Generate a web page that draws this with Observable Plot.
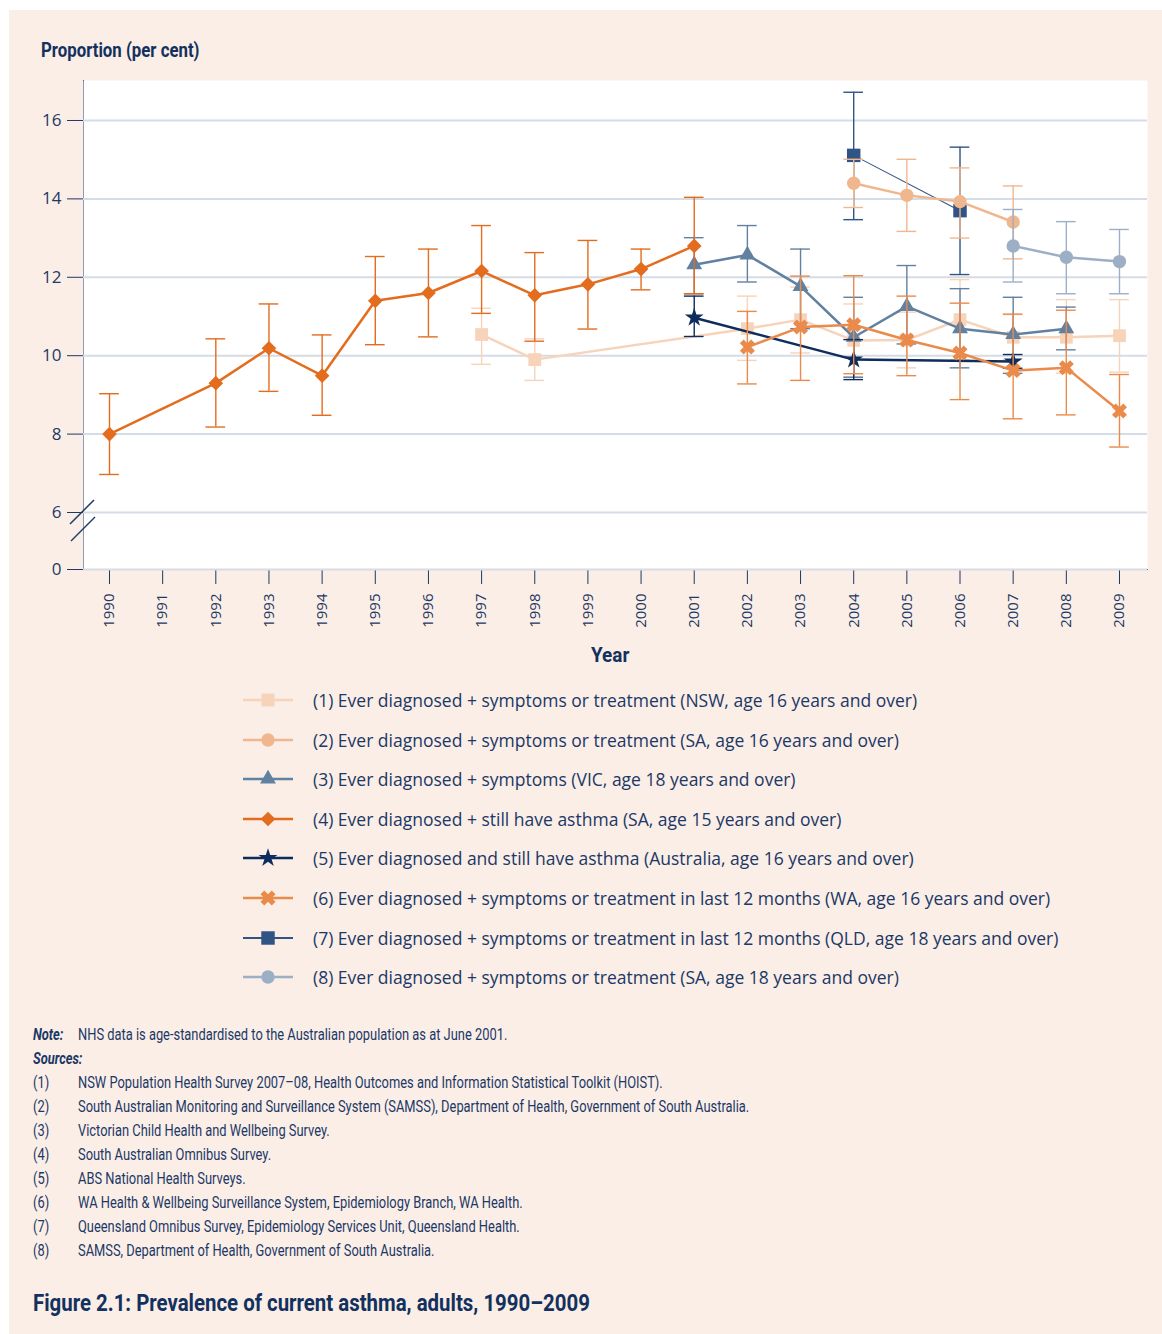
<!DOCTYPE html>
<html><head><meta charset="utf-8">
<script src="https://cdn.jsdelivr.net/npm/d3@7"></script>
<script src="https://cdn.jsdelivr.net/npm/@observablehq/plot@0.6"></script>
<style>
body{margin:0;background:#fff;}
#panel{position:absolute;left:9px;top:10px;width:1153px;height:1324px;background:#FAEEE6;overflow:hidden;}
.abs{position:absolute;white-space:nowrap;color:#1B3866;transform-origin:0 50%;}
.cond{font-family:"Roboto",sans-serif;}
#chart{position:absolute;left:0;top:60px;}
#chart svg{overflow:visible;}
#chart [aria-label="y-axis tick label"]{font-size:17px;}
.legrow{position:absolute;left:231px;height:24px;display:flex;align-items:center;white-space:nowrap;color:#1B3866;font-family:"Open Sans","Lato",sans-serif;font-size:17.5px;}
.legrow svg{margin-right:17px;}
</style></head>
<body>
<div id="panel">
  <div class="abs cond" style="left:32px;top:28px;font-size:20px;font-weight:bold;color:#13315F;transform:scaleX(0.84);">Proportion (per cent)</div>
  <div id="chart"></div>
  <div class="abs cond" style="left:582px;top:633px;font-size:21px;font-weight:bold;color:#13315F;transform:scaleX(0.9);">Year</div>
  <div id="legend"></div>
  <div id="notes"></div>
</div>
<script>
const years = [1990,1991,1992,1993,1994,1995,1996,1997,1998,1999,2000,2001,2002,2003,2004,2005,2006,2007,2008,2009];
const yTicks = [0,6,8,10,12,14,16];

const s1Years = [1997,1998,2002,2003,2004,2005,2006,2007,2008,2009];
const s1Values = [10.54,9.90,10.69,10.92,10.39,10.40,10.92,10.47,10.47,10.51];
const s1Low = [9.78,9.37,9.88,10.07,9.46,9.69,9.90,9.90,9.55,9.58];
const s1High = [11.21,10.43,11.52,11.75,11.32,11.11,11.94,11.05,11.43,11.43];

const s2Years = [2004,2005,2006,2007];
const s2Values = [14.40,14.09,13.93,13.41];
const s2Low = [13.78,13.17,13.00,12.47];
const s2High = [15.01,15.01,14.79,14.33];

const s3Years = [2001,2002,2003,2004,2005,2006,2007,2008];
const s3Values = [12.32,12.57,11.77,10.47,11.26,10.69,10.54,10.69];
const s3Low = [11.58,11.88,10.69,9.45,10.30,9.69,9.55,10.15];
const s3High = [13.01,13.32,12.72,11.49,12.30,11.71,11.49,11.24];

const s4Years = [1990,1992,1993,1994,1995,1996,1997,1998,1999,2000,2001];
const s4Values = [8.00,9.30,10.19,9.49,11.40,11.60,12.16,11.54,11.82,12.21,12.80];
const s4Low = [6.97,8.18,9.09,8.48,10.28,10.48,11.08,10.37,10.68,11.68,11.58];
const s4High = [9.03,10.43,11.32,10.53,12.53,12.72,13.32,12.63,12.94,12.72,14.04];

const s5Years = [2001,2004,2007];
const s5Values = [10.97,9.90,9.85];
const s5Low = [10.49,9.39,9.68];
const s5High = [11.52,10.41,10.03];

const s6Years = [2002,2003,2004,2005,2006,2007,2008,2009];
const s6Values = [10.22,10.73,10.79,10.40,10.07,9.62,9.69,8.59];
const s6Low = [9.28,9.37,9.54,9.49,8.88,8.39,8.49,7.67];
const s6High = [11.13,12.03,12.04,11.52,11.34,11.06,11.16,9.52];

const s7Years = [2004,2006];
const s7Values = [15.11,13.70];
const s7Low = [13.47,12.07];
const s7High = [16.72,15.32];

const s8Years = [2007,2008,2009];
const s8Values = [12.80,12.51,12.40];
const s8Low = [11.88,11.58,11.58];
const s8High = [13.73,13.42,13.22];

const legendLabels = [
  "(1) Ever diagnosed + symptoms or treatment (NSW, age 16 years and over)",
  "(2) Ever diagnosed + symptoms or treatment (SA, age 16 years and over)",
  "(3) Ever diagnosed + symptoms (VIC, age 18 years and over)",
  "(4) Ever diagnosed + still have asthma (SA, age 15 years and over)",
  "(5) Ever diagnosed and still have asthma (Australia, age 16 years and over)",
  "(6) Ever diagnosed + symptoms or treatment in last 12 months (WA, age 16 years and over)",
  "(7) Ever diagnosed + symptoms or treatment in last 12 months (QLD, age 18 years and over)",
  "(8) Ever diagnosed + symptoms or treatment (SA, age 18 years and over)"
];
const noteText = "NHS data is age-standardised to the Australian population as at June 2001.";
const sourceTexts = [
  "NSW Population Health Survey 2007\u201308, Health Outcomes and Information Statistical Toolkit (HOIST).",
  "South Australian Monitoring and Surveillance System (SAMSS), Department of Health, Government of South Australia.",
  "Victorian Child Health and Wellbeing Survey.",
  "South Australian Omnibus Survey.",
  "ABS National Health Surveys.",
  "WA Health & Wellbeing Surveillance System, Epidemiology Branch, WA Health.",
  "Queensland Omnibus Survey, Epidemiology Services Unit, Queensland Health.",
  "SAMSS, Department of Health, Government of South Australia."
];
const figureTitle = "Figure 2.1: Prevalence of current asthma, adults, 1990\u20132009";

// broken y axis: the 0–6 stretch is compressed (axis break)
const breakAt = 6, breakSpan = 1.454;
const yPos = v => v < breakAt ? breakAt - breakSpan + v * breakSpan / breakAt : v;
const yInv = p => p < breakAt ? (p - (breakAt - breakSpan)) * breakAt / breakSpan : p;

// thick X symbol (a cross rotated by 45 degrees)
const symbolThickX = {
  draw(ctx, size) {
    const r = Math.sqrt(size / 5) / 2, c = Math.SQRT1_2;
    const pts = [[-3*r,-r],[-r,-r],[-r,-3*r],[r,-3*r],[r,-r],[3*r,-r],[3*r,r],[r,r],[r,3*r],[-r,3*r],[-r,r],[-3*r,r]]
      .map(([x,y]) => [x*c - y*c, x*c + y*c]);
    ctx.moveTo(pts[0][0], pts[0][1]);
    for (let i = 1; i < pts.length; i++) ctx.lineTo(pts[i][0], pts[i][1]);
    ctx.closePath();
  }
};

const rows = (ys, vs, lo, hi) => ys.map((x, i) => ({x, v: vs[i], lo: lo[i], hi: hi[i]}));

const series = [
  {key: 7, data: rows(s7Years, s7Values, s7Low, s7High), color: "#2F5485", symbol: d3.symbolSquare, r: 7.6, lw: 1.1},
  {key: 1, data: rows(s1Years, s1Values, s1Low, s1High), color: "#F7D3BA", symbol: d3.symbolSquare, r: 7.2, lw: 2.5},
  {key: 3, data: rows(s3Years, s3Values, s3Low, s3High), color: "#62809F", symbol: d3.symbolTriangle, r: 5.9, lw: 2.5},
  {key: 4, data: rows(s4Years, s4Values, s4Low, s4High), color: "#E36C1E", symbol: d3.symbolDiamond2, r: 6.6, lw: 2.5},
  {key: 5, data: rows(s5Years, s5Values, s5Low, s5High), color: "#0E2D5E", symbol: d3.symbolStar, r: 5.9, lw: 2.5},
  {key: 6, data: rows(s6Years, s6Values, s6Low, s6High), color: "#EA8A4B", symbol: symbolThickX, r: 6.7, lw: 2.5},
  {key: 2, data: rows(s2Years, s2Values, s2Low, s2High), color: "#F0B78F", symbol: d3.symbolCircle, r: 6.7, lw: 2.5},
  {key: 8, data: rows(s8Years, s8Values, s8Low, s8High), color: "#9CAFC5", symbol: d3.symbolCircle, r: 6.7, lw: 2.5}
];

const capHalf = 0.185;
const seriesMarks = series.flatMap(s => [
  Plot.ruleX(s.data, {x: "x", y1: d => yPos(d.lo), y2: d => yPos(d.hi), stroke: s.color, strokeWidth: 1.4}),
  Plot.ruleY(s.data, {y: d => yPos(d.hi), x1: d => d.x - capHalf, x2: d => d.x + capHalf, stroke: s.color, strokeWidth: 1.4}),
  Plot.ruleY(s.data, {y: d => yPos(d.lo), x1: d => d.x - capHalf, x2: d => d.x + capHalf, stroke: s.color, strokeWidth: 1.4}),
  Plot.line(s.data, {x: "x", y: d => yPos(d.v), stroke: s.color, strokeWidth: s.lw}),
  Plot.dot(s.data, {x: "x", y: d => yPos(d.v), symbol: s.symbol, r: s.r, fill: s.color, stroke: "none"})
]);

// axis-break slashes, positioned from the scales
function axisBreak(index, scales, values, dims) {
  const g = d3.create("svg:g");
  const x0 = dims.marginLeft, yb = scales.y(breakAt);
  const segs = [[-13, 12, 11, -12], [-12, 29, 12, 5]];
  for (const [a, b, c, d] of segs) {
    g.append("line").attr("x1", x0 + a).attr("y1", yb + b).attr("x2", x0 + c).attr("y2", yb + d)
      .attr("stroke", "#1F3D6B").attr("stroke-width", 1.5);
  }
  return g.node();
}

const chart = Plot.plot({
  width: 1153,
  height: 570,
  marginLeft: 74, marginRight: 15, marginTop: 10, marginBottom: 71,
  style: {fontFamily: "'Open Sans', sans-serif", fontSize: "15px", color: "#1D3965", background: "transparent"},
  x: {domain: [1989.511, 2009.527], ticks: years, tickFormat: d => String(d), tickRotate: -90, tickSize: 15, tickPadding: 9, label: null, line: true},
  y: {domain: [yPos(0), 17.02], ticks: yTicks.map(yPos), tickFormat: d => String(Math.round(yInv(d))), tickSize: 16, tickPadding: 6, label: null, line: true},
  marks: [
    Plot.frame({fill: "white", stroke: "none"}),
    Plot.ruleY(yTicks, {y: yPos, stroke: "#D5DCE5", strokeWidth: 2}),
    axisBreak,
    ...seriesMarks
  ]
});
document.getElementById("chart").appendChild(chart);

// legend
const legendOrder = [1,2,3,4,5,6,7,8];
const legend = document.getElementById("legend");
legendOrder.forEach((k, i) => {
  const s = series.find(d => d.key === k);
  const row = document.createElement("div");
  row.className = "legrow";
  row.style.top = (678 + i * 39.6) + "px";
  const sv = d3.create("svg").attr("width", 56).attr("height", 24);
  sv.append("line").attr("x1", 3).attr("x2", 53).attr("y1", 12).attr("y2", 12)
    .attr("stroke", s.color).attr("stroke-width", k === 7 ? 2 : 2.5);
  sv.append("path").attr("transform", "translate(28,12)")
    .attr("d", d3.symbol(s.symbol, Math.PI * s.r * s.r)()).attr("fill", s.color);
  row.appendChild(sv.node());
  const t = document.createElement("span");
  t.textContent = legendLabels[k - 1];
  row.appendChild(t);
  legend.appendChild(row);
});

// notes
const notes = document.getElementById("notes");
function addNote(left, top, text, style) {
  const d = document.createElement("div");
  d.className = "abs cond";
  d.style.left = left + "px"; d.style.top = top + "px";
  d.style.fontSize = "16px"; d.style.color = "#1B3866";
  d.style.transform = "scaleX(0.805)";
  if (style) Object.assign(d.style, style);
  d.textContent = text;
  notes.appendChild(d);
}
addNote(24, 1015, "Note:", {fontWeight: "bold", fontStyle: "italic"});
addNote(69, 1015, noteText);
addNote(24, 1039, "Sources:", {fontWeight: "bold", fontStyle: "italic"});
sourceTexts.forEach((s, i) => {
  addNote(24, 1063 + i * 24, "(" + (i + 1) + ")");
  addNote(69, 1063 + i * 24, s);
});
addNote(24, 1279, figureTitle, {fontSize: "24px", fontWeight: "bold", color: "#13315F", transform: "scaleX(0.85)"});
</script>
</body></html>
